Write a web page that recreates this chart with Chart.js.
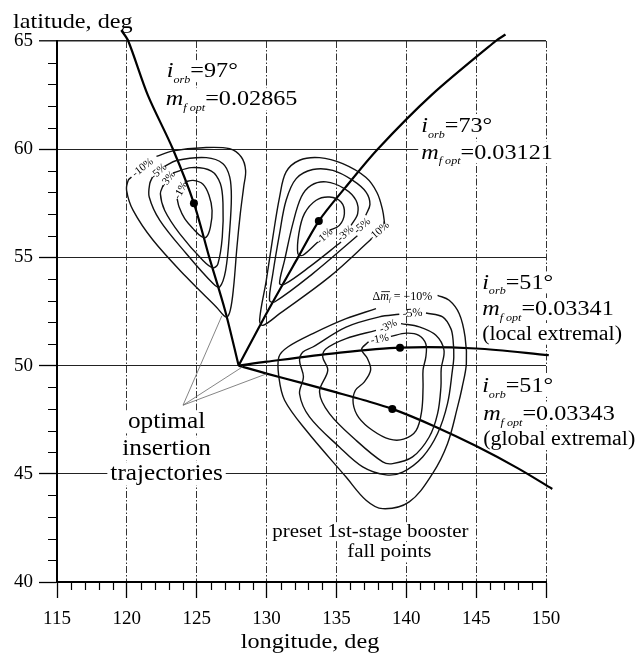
<!DOCTYPE html>
<html>
<head>
<meta charset="utf-8">
<script src="https://cdn.jsdelivr.net/npm/chart.js@4.4.0/dist/chart.umd.min.js"></script>
<style>
  html, body { margin: 0; padding: 0; background: #fff; }
</style>
</head>
<body>
<canvas id="chart" width="639" height="656"></canvas>
<script>
// axes (longitude / latitude, deg)
const lonRange = [115, 150];
const latRange = [40, 65];
const majorStep = 5;

// optimal insertion trajectories, [lon, lat]
const traj97 = [[128, 50], [127.05, 52.5], [125.9, 55], [124.8, 57.5], [123.3, 60], [121.5, 62.5], [120.1, 65], [119.6, 65.5]];
const traj73 = [[128, 50], [130.07, 52.5], [132.25, 55], [133.74, 56.68], [135.6, 58.2], [137.95, 60], [141.8, 62.5], [146.4, 65], [147.1, 65.3]];
const traj51local = [[128, 50], [130, 50.18], [135, 50.58], [139.55, 50.83], [145, 50.79], [150.2, 50.48]];
const traj51global = [[128, 50], [130, 49.63], [132.5, 49.2], [135, 48.76], [137, 48.4], [139, 48.0], [142, 47.2], [145, 46.28], [148, 45.25], [150.45, 44.3]];

// optimum points on each trajectory
const optimumPoints = [[124.8, 57.5], [133.74, 56.68], [139.55, 50.83], [139, 48.0]];

// booster fall point contours, i_orb = 97 deg
const c97m1 = [[124.14, 58.48], [124.74, 58.56], [125.45, 58.38], [125.88, 57.87], [126.1, 57.17], [125.98, 56.4], [125.69, 55.94], [125.33, 55.97], [124.74, 56.33], [124.14, 56.79], [123.74, 57.33], [123.6, 57.71]];
const c97m3 = [[123.31, 58.9], [124.62, 59.15], [126.05, 58.99], [126.69, 58.41], [126.88, 57.48], [126.83, 55.94], [126.52, 54.71], [126.17, 54.52], [125.45, 54.86], [123.79, 56.09], [122.71, 57.17], [122.4, 57.94], [122.6, 58.33]];
const c97m5 = [[122.71, 59.21], [123.55, 59.48], [125.69, 59.61], [126.88, 59.33], [127.36, 58.72], [127.48, 57.79], [127.36, 56.25], [127.07, 54.4], [126.64, 53.63], [126.17, 53.79], [124.26, 55.17], [122.36, 56.71], [121.6, 57.79], [121.64, 58.41], [121.83, 58.71]];
const c97m10 = [[122.12, 59.67], [123.31, 59.92], [125.45, 60.07], [127.36, 60.02], [128.19, 59.64], [128.5, 59.02], [128.36, 58.25], [128.12, 57.02], [127.88, 55.48], [127.64, 53.63], [127.4, 52.55], [127.12, 52.24], [126.4, 52.71], [124.26, 54.09], [121.88, 55.79], [120.45, 57.17], [119.98, 58.1], [120.1, 58.56], [120.33, 58.71]];

// i_orb = 73 deg
const c73m1 = [[134.5, 56.25], [135.21, 56.48], [135.57, 57.02], [135.33, 57.56], [134.5, 57.79], [133.55, 57.64], [132.71, 57.02], [132.31, 56.1], [132.24, 55.17], [132.6, 55.1], [133.67, 55.71]];
const c73m3 = [[136.05, 56.48], [136.52, 57.02], [136.4, 57.64], [135.57, 58.18], [134.26, 58.49], [133.19, 58.33], [132.48, 57.79], [131.88, 56.56], [131.29, 54.87], [130.93, 53.79], [131.29, 53.76], [133.07, 54.56], [135.33, 55.71]];
const c73m5 = [[137.1, 56.95], [137.4, 57.45], [137.12, 58.02], [136.17, 58.56], [134.74, 59.02], [133.31, 59.06], [132.12, 58.64], [131.4, 57.64], [130.93, 56.1], [130.45, 54.25], [130.21, 53.02], [130.57, 52.94], [133.31, 54.25], [136.5, 56.0]];
const c73m10 = [[138.45, 56.55], [138.3, 57.2], [137.9, 58.0], [137.1, 58.7], [135.45, 59.33], [133.79, 59.61], [132.36, 59.49], [131.4, 58.95], [130.93, 57.79], [130.45, 55.94], [129.98, 53.94], [129.5, 52.09], [129.74, 51.86], [130.93, 52.4], [134.5, 54.1], [137.5, 55.85]];

// i_orb = 51 deg
const c51m1 = [[138.9, 51.35], [140.0, 51.5], [140.9, 51.4], [141.4, 51.0], [141.4, 50.4], [141.2, 49.8], [141.2, 49.0], [141.1, 47.9], [140.7, 47.0], [139.8, 46.6], [138.8, 46.6], [137.6, 47.0], [136.6, 47.6], [136.2, 48.25], [136.35, 48.85], [137.0, 49.25], [137.45, 49.8], [137.2, 50.35], [136.8, 50.75], [137.3, 51.1]];
const c51m3 = [[139.62, 51.94], [140.93, 51.79], [142.12, 51.4], [142.7, 50.71], [142.5, 49.86], [142.48, 49.01], [142.24, 47.78], [141.64, 46.7], [140.45, 45.78], [139.02, 45.47], [138.31, 45.55], [136.4, 46.55], [134.5, 47.78], [133.79, 48.78], [134.38, 49.78], [134.02, 50.4], [134.26, 50.78], [135.69, 51.25], [137.83, 51.63]];
const c51m5 = [[141.41, 52.43], [142.6, 52.25], [143.19, 51.71], [143.35, 51.17], [143.4, 50.4], [143.3, 49.78], [142.95, 48.24], [142.24, 46.86], [141.17, 45.78], [139.74, 45.08], [138.55, 44.95], [136.88, 45.32], [135.21, 46.24], [133.07, 47.63], [132.36, 48.7], [132.64, 49.47], [132.36, 50.24], [132.6, 50.63], [133.31, 50.86], [135.69, 51.78], [138.07, 52.25], [139.5, 52.37]];
const c51m10 = [[142.24, 53.25], [143.07, 53.02], [143.79, 52.4], [144.21, 51.32], [144.3, 50.09], [144.0, 49.0], [143.67, 48.09], [142.95, 46.39], [141.88, 45.01], [140.21, 43.7], [138.31, 43.39], [137.12, 43.78], [135.69, 44.85], [132.83, 47.01], [131.29, 48.4], [130.88, 49.47], [130.88, 50.4], [131.52, 50.86], [133.31, 51.48], [135.69, 52.17], [137.83, 52.63]];

// leader lines of the "optimal insertion trajectories" label
const leaders = [
    [[124.02, 48.17], [126.8, 52.3]],
    [[124.02, 48.17], [128.3, 49.95]],
    [[124.02, 48.17], [130.0, 49.62]]
];

const FONT = '"Liberation Serif", "Times New Roman", serif';
const STRETCH = 1.1;

// text placed on the plot: parts are [text, style]
const notes = [
    { parts: [['i', 'it'], ['orb', 'it sub'], ['=97°', '']], lon: 122.86, lat: 63.32, size: 22, box: true },
    { parts: [['m', 'it'], ['f opt', 'it sub'], ['=0.02865', '']], lon: 122.79, lat: 62.03, size: 22, box: true },
    { parts: [['i', 'it'], ['orb', 'it sub'], ['=73°', '']], lon: 141.07, lat: 60.79, size: 22, box: true },
    { parts: [['m', 'it'], ['f opt', 'it sub'], ['=0.03121', '']], lon: 141.07, lat: 59.57, size: 22, box: true },
    { parts: [['i', 'it'], ['orb', 'it sub'], ['=51°', '']], lon: 145.43, lat: 53.56, size: 22, box: true },
    { parts: [['m', 'it'], ['f opt', 'it sub'], ['=0.03341', '']], lon: 145.43, lat: 52.32, size: 22, box: true },
    { parts: [['(local extremal)', '']], lon: 145.43, lat: 51.17, size: 20, box: true },
    { parts: [['i', 'it'], ['orb', 'it sub'], ['=51°', '']], lon: 145.43, lat: 48.78, size: 22, box: true },
    { parts: [['m', 'it'], ['f opt', 'it sub'], ['=0.03343', '']], lon: 145.5, lat: 47.49, size: 22, box: true },
    { parts: [['(global extremal)', '']], lon: 145.5, lat: 46.33, size: 20, box: true },
    { parts: [['optimal', '']], lon: 122.84, lat: 47.1, size: 23, align: 'center', box: true },
    { parts: [['insertion', '']], lon: 122.84, lat: 45.86, size: 23, align: 'center', box: true },
    { parts: [['trajectories', '']], lon: 122.84, lat: 44.7, size: 23, align: 'center', box: true },
    { parts: [['preset 1st-stage booster', '']], lon: 137.43, lat: 42.08, size: 19, align: 'center', box: true },
    { parts: [['fall points', '']], lon: 138.79, lat: 41.16, size: 19, align: 'center', box: true },
    { parts: [['latitude, deg', '']], px: 13, py: 28, size: 22 },
    { parts: [['longitude, deg', '']], px: 310, py: 648, size: 22, align: 'center' },
    // contour levels
    { parts: [['-10%', '']], lon: 121.15, lat: 59.15, size: 11, align: 'center', mid: true, rot: -38 },
    { parts: [['-5%', '']], lon: 122.27, lat: 58.96, size: 11, align: 'center', mid: true, rot: -42 },
    { parts: [['-3%', '']], lon: 122.95, lat: 58.6, size: 11, align: 'center', mid: true, rot: -52 },
    { parts: [['-1%', '']], lon: 123.87, lat: 58.1, size: 11, align: 'center', mid: true, rot: -62 },
    { parts: [['-1%', '']], lon: 134.15, lat: 55.97, size: 11, align: 'center', mid: true, rot: -42 },
    { parts: [['-3%', '']], lon: 135.66, lat: 56.1, size: 11, align: 'center', mid: true, rot: -42 },
    { parts: [['-5%', '']], lon: 136.85, lat: 56.45, size: 11, align: 'center', mid: true, rot: -42 },
    { parts: [['-10%', '']], lon: 138.05, lat: 56.2, size: 11, align: 'center', mid: true, rot: -42 },
    { parts: [['Δ', ''], ['m', 'it bar'], ['f', 'it sub'], [' = −10%', '']], lon: 139.72, lat: 53.17, size: 12, align: 'center', mid: true },
    { parts: [['-5%', '']], lon: 140.45, lat: 52.42, size: 12, align: 'center', mid: true, rot: -5 },
    { parts: [['-3%', '']], lon: 138.72, lat: 51.82, size: 11, align: 'center', mid: true, rot: -25 },
    { parts: [['-1%', '']], lon: 138.1, lat: 51.22, size: 11, align: 'center', mid: true, rot: -10 }
];

function fontFor(style, size) {
    const sub = style.includes('sub');
    const it = style.includes('it');
    return (it ? 'italic ' : '') + (sub ? Math.round(size * 0.5) : size) + 'px ' + FONT;
}

function widthOf(ctx, note) {
    let w = 0;
    note.parts.forEach(([t, st]) => {
        ctx.font = fontFor(st, note.size);
        w += ctx.measureText(t).width;
    });
    return w;
}

function anchorOf(chart, note) {
    if (note.px !== undefined) return [note.px, note.py];
    return [chart.scales.x.getPixelForValue(note.lon), chart.scales.y.getPixelForValue(note.lat)];
}

const notesPlugin = {
    id: 'notes',
    beforeDatasetsDraw(chart) {
        // white boxes so grid lines break around the text
        const ctx = chart.ctx;
        ctx.save();
        ctx.fillStyle = '#fff';
        notes.filter(n => n.box).forEach(n => {
            const [x, y] = anchorOf(chart, n);
            const w = widthOf(ctx, n) * STRETCH;
            const x0 = n.align === 'center' ? x - w / 2 : x;
            ctx.fillRect(x0 - 3, y - n.size * 0.78, w + 6, n.size * 1.0);
        });
        ctx.restore();
    },
    afterDatasetsDraw(chart) {
        const ctx = chart.ctx;
        notes.forEach(n => {
            const [x, y] = anchorOf(chart, n);
            const w = widthOf(ctx, n);
            ctx.save();
            ctx.translate(x, y);
            if (n.rot) ctx.rotate(n.rot * Math.PI / 180);
            const sx = n.mid ? 1 : STRETCH;
            ctx.scale(sx, 1);
            ctx.fillStyle = '#000';
            ctx.strokeStyle = '#000';
            ctx.textBaseline = n.mid ? 'middle' : 'alphabetic';
            ctx.textAlign = 'left';
            let cx = n.align === 'center' ? -w / 2 : 0;
            n.parts.forEach(([t, st]) => {
                ctx.font = fontFor(st, n.size);
                const tw = ctx.measureText(t).width;
                const dy = st.includes('sub') ? n.size * 0.26 : 0;
                ctx.fillText(t, cx, dy);
                if (st.includes('bar')) {
                    const top = n.mid ? -n.size * 0.45 : -n.size * 0.62;
                    ctx.lineWidth = 0.8;
                    ctx.beginPath();
                    ctx.moveTo(cx + 1, top);
                    ctx.lineTo(cx + tw + 1, top);
                    ctx.stroke();
                }
                cx += tw;
            });
            ctx.restore();
        });
    }
};

const minorTicks = {
    id: 'minorTicks',
    afterDraw(chart) {
        const { ctx, chartArea, scales: { x, y } } = chart;
        ctx.save();
        ctx.strokeStyle = '#000';
        ctx.lineWidth = 1.2;
        ctx.beginPath();
        for (let v = lonRange[0]; v <= lonRange[1]; v++) {
            if (v % majorStep === 0) continue;
            const px = Math.round(x.getPixelForValue(v)) + 0.5;
            ctx.moveTo(px, chartArea.bottom);
            ctx.lineTo(px, chartArea.bottom + 8);
        }
        for (let v = latRange[0]; v <= latRange[1]; v++) {
            if (v % majorStep === 0) continue;
            const py = Math.round(y.getPixelForValue(v)) + 0.5;
            ctx.moveTo(chartArea.left - 9, py);
            ctx.lineTo(chartArea.left, py);
        }
        ctx.stroke();
        ctx.restore();
    }
};

function curve(pts, width, color, tension) {
    return {
        data: pts.map(([x, y]) => ({ x, y })),
        showLine: true,
        borderColor: color,
        borderWidth: width,
        pointRadius: 0,
        tension: tension,
        fill: false,
        clip: false
    };
}

const contours = [c97m1, c97m3, c97m5, c97m10, c73m1, c73m3, c73m5, c73m10, c51m1, c51m3, c51m5, c51m10];
const trajectories = [traj97, traj73, traj51local, traj51global];

const datasets = [
    ...leaders.map(l => curve(l, 0.8, '#666', 0)),
    ...contours.map(c => curve(c, 1.4, '#111', 0.35)),
    ...trajectories.map(t => curve(t, 2.2, '#000', 0.3)),
    {
        data: optimumPoints.map(([x, y]) => ({ x, y })),
        showLine: false,
        pointRadius: 4,
        pointBackgroundColor: '#000',
        pointBorderWidth: 0
    }
];

const serifTicks = { family: FONT, size: 19 };

new Chart(document.getElementById('chart'), {
    type: 'scatter',
    data: { datasets },
    options: {
        responsive: false,
        animation: false,
        events: [],
        layout: { padding: { left: 0, right: 93, top: 41, bottom: 0 } },
        plugins: { legend: { display: false }, tooltip: { enabled: false } },
        scales: {
            x: {
                type: 'linear',
                min: lonRange[0],
                max: lonRange[1],
                ticks: { stepSize: majorStep, color: '#000', font: serifTicks, padding: 10, maxRotation: 0 },
                grid: { color: '#333', lineWidth: 1, tickLength: 16, tickColor: '#000', tickWidth: 1.3 },
                border: { display: true, color: '#000', width: 2, dash: [7, 2, 1.5, 2] },
                afterFit: s => { s.height = 74; }
            },
            y: {
                type: 'linear',
                min: latRange[0],
                max: latRange[1],
                ticks: { stepSize: majorStep, color: '#000', font: serifTicks, padding: 6 },
                grid: {
                    color: '#222',
                    lineWidth: c => (c.tick && c.tick.value === latRange[1] ? 1.6 : 1),
                    tickLength: 18,
                    tickColor: '#000',
                    tickWidth: 1.3
                },
                border: { display: true, color: '#000', width: 2 },
                afterFit: s => { s.width = 57; }
            }
        }
    },
    plugins: [notesPlugin, minorTicks]
});
</script>
</body>
</html>
